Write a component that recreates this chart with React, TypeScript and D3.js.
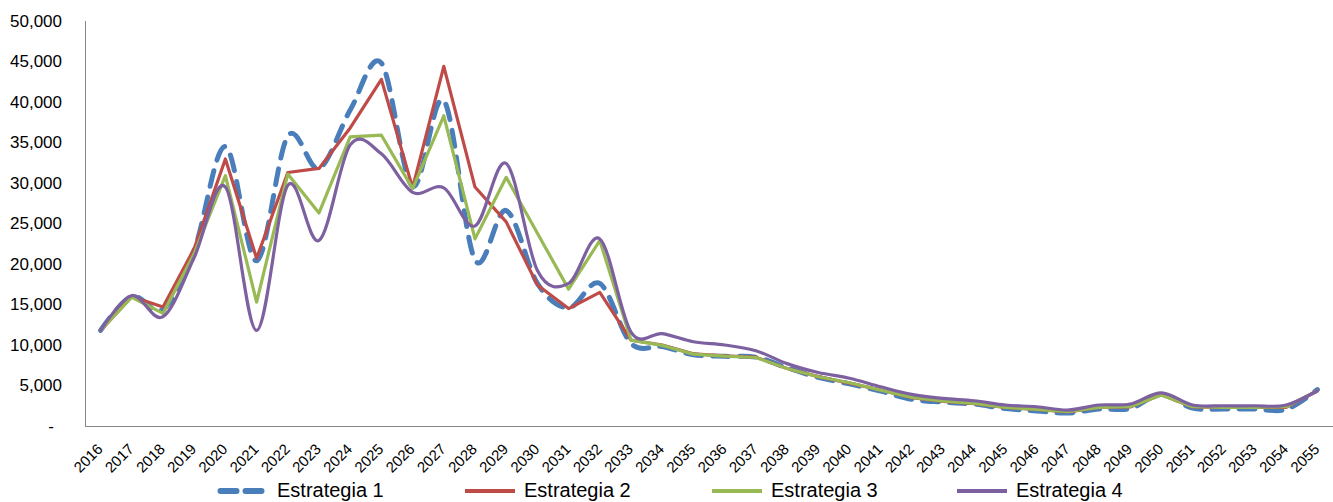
import React from "react";
import * as d3 from "d3";

const years: string[] = d3.range(2016, 2056).map(String);

const estrategia1: number[] = [11800, 16000, 14400, 21700, 34500, 20400, 35800, 31800, 39000, 44800, 29600, 40200, 20500, 26600, 17600, 14600, 17600, 10200, 9800, 8800, 8600, 8500, 7200, 6000, 5200, 4300, 3300, 2950, 2700, 2150, 1850, 1600, 2100, 2150, 3900, 2200, 2100, 2100, 2050, 4500];
const estrategia2: number[] = [11800, 16000, 14700, 21900, 32970, 20700, 31300, 31800, 36800, 42800, 29400, 44400, 29500, 25200, 17400, 14500, 16500, 10600, 10000, 8900, 8650, 8500, 7100, 6100, 5300, 4450, 3500, 3050, 2750, 2300, 2050, 1750, 2300, 2350, 3850, 2350, 2300, 2300, 2300, 4350];
const estrategia3: number[] = [11800, 15900, 13900, 21300, 30900, 15300, 31100, 26300, 35700, 35900, 29300, 38300, 23100, 30700, 23800, 16900, 22900, 10600, 9950, 8870, 8620, 8460, 7100, 6080, 5340, 4430, 3530, 3080, 2790, 2300, 2050, 1760, 2300, 2380, 3820, 2380, 2300, 2300, 2380, 4350];
const estrategia4: number[] = [11800, 16100, 13500, 20800, 29500, 11800, 29700, 22900, 34700, 33600, 28850, 29400, 24700, 32400, 19200, 17600, 23100, 11600, 11400, 10400, 10000, 9300, 7700, 6600, 5900, 4850, 3900, 3400, 3120, 2590, 2380, 1970, 2590, 2710, 4100, 2590, 2500, 2500, 2590, 4350];

const seriesNames: string[] = ["Estrategia 1", "Estrategia 2", "Estrategia 3", "Estrategia 4"];
const yTicks: number[] = [0, 5000, 10000, 15000, 20000, 25000, 30000, 35000, 40000, 45000, 50000];

const W = 1333;
const H = 502;

export default function App() {
  const x = d3.scalePoint<string>().domain(years).range([85, 1333]).padding(0.5);
  const y = d3.scaleLinear().domain([0, 50000]).range([426, 21]);

  const smooth = d3.line<number>()
    .x((_, i) => x(years[i]) as number)
    .y((d) => y(d))
    .curve(d3.curveCardinal.tension(0));
  const straight = d3.line<number>()
    .x((_, i) => x(years[i]) as number)
    .y((d) => y(d));

  const series = [
    { name: seriesNames[0], data: estrategia1, color: "#4A7EBB", width: 5, dash: "16 11", smooth: true },
    { name: seriesNames[1], data: estrategia2, color: "#BE4B48", width: 3.2, dash: undefined, smooth: false },
    { name: seriesNames[2], data: estrategia3, color: "#98B954", width: 3.2, dash: undefined, smooth: false },
    { name: seriesNames[3], data: estrategia4, color: "#7D60A0", width: 3.2, dash: undefined, smooth: true },
  ];

  const fmt = d3.format(",");
  const legendX = [218, 465, 712, 957];

  return (
    <svg width={W} height={H} style={{ position: "absolute", left: 0, top: 0 }} fontFamily="'Liberation Sans', Arial, sans-serif">
      <rect x={0} y={0} width={W} height={H} fill="#fff" />
      {yTicks.map((t) => (
        <text key={t} x={t === 0 ? 54 : 62} y={y(t)} dy="0.35em" textAnchor="end" fontSize={17} fill="#000">
          {t === 0 ? "-" : fmt(t)}
        </text>
      ))}
      <line x1={85.5} x2={85.5} y1={y(50000)} y2={426.5} stroke="#868686" strokeWidth={1} />
      <line x1={85} x2={1333} y1={426.5} y2={426.5} stroke="#868686" strokeWidth={1} />
      {years.map((yr) => (
        <text key={yr} transform={`translate(${(x(yr) as number) + 3},450) rotate(-45)`} textAnchor="end" fontSize={15} fill="#000">
          {yr}
        </text>
      ))}
      {series.map((s) => (
        <path
          key={s.name}
          d={(s.smooth ? smooth : straight)(s.data) || ""}
          fill="none"
          stroke={s.color}
          strokeWidth={s.width}
          strokeDasharray={s.dash}
          strokeLinecap="round"
          strokeLinejoin="round"
        />
      ))}
      {series.map((s, i) => (
        <g key={s.name}>
          <line
            x1={legendX[i] + (s.dash ? 2.5 : 0)}
            x2={legendX[i] + (s.dash ? 45 : 50)}
            y1={491}
            y2={491}
            stroke={s.color}
            strokeWidth={s.dash ? 6 : 4}
            strokeDasharray={s.dash ? "16 9" : undefined}
            strokeLinecap={s.dash ? "round" : "butt"}
          />
          <text x={legendX[i] + 59} y={497} fontSize={20} fill="#000">
            {s.name}
          </text>
        </g>
      ))}
    </svg>
  );
}
